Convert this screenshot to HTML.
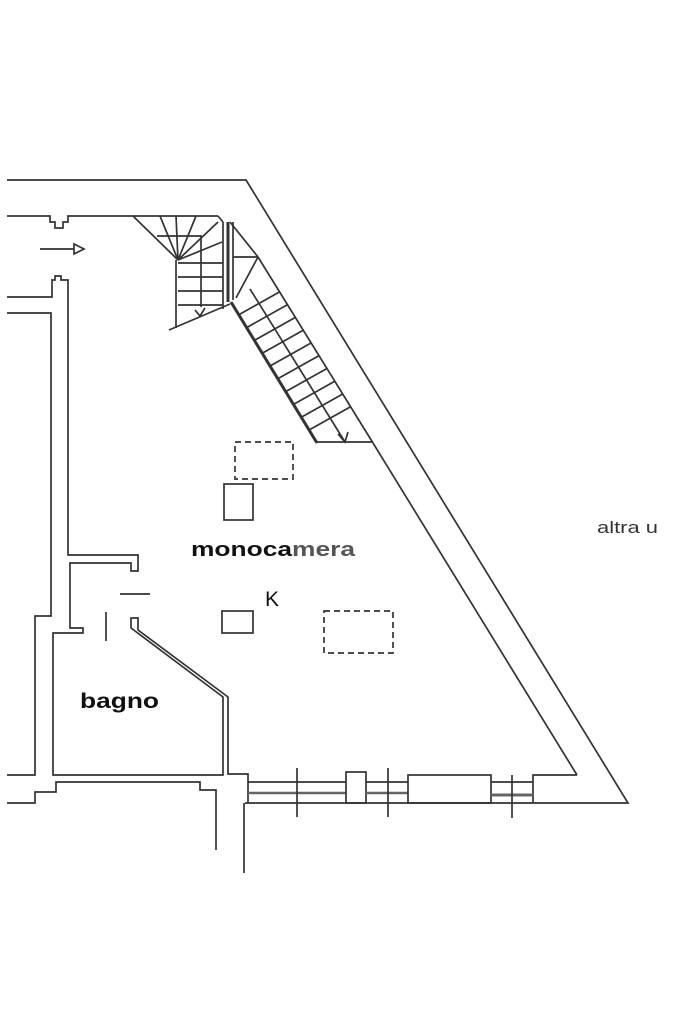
<!DOCTYPE html>
<html><head><meta charset="utf-8"><style>
html,body{margin:0;padding:0;background:#fff;}
svg{display:block;}
</style></head><body>
<svg width="683" height="1023" viewBox="0 0 683 1023" xmlns="http://www.w3.org/2000/svg">
<g fill="none" stroke="#333" stroke-width="1.7">
<polyline points="7,180 246,180 628,803 245,803"/>
<polyline points="7,216 50,216 50,222 55,222 55,228 63,228 63,222 68,222 68,216 218,216"/>
<polyline points="230,222 258,257"/>
<line x1="373" y1="443" x2="577" y2="775"/>
<line x1="258" y1="257" x2="373" y2="443"/>
<polyline points="533,803 533,775 577,775"/>
<polyline points="7,297 52,297 52,280 55,280 55,276 61,276 61,280 68,280 68,555 138,555 138,571 131,571 131,563 70,563 70,628 83,628 83,633 53,633 53,775 223,775 223,697 131,628 131,618 138,618 138,630 228,697 228,774 248,774 248,803"/>
<polyline points="7,313 51,313 51,616 35,616 35,775 7,775"/>
<polyline points="7,803 35,803 35,792 56,792 56,782 200,782 200,790 216,790 216,850"/>
<line x1="244" y1="803" x2="244" y2="873"/>
<line x1="120" y1="594" x2="150" y2="594"/>
<line x1="106" y1="612" x2="106" y2="641"/>
<line x1="248" y1="782" x2="346" y2="782"/>
<line x1="248" y1="793" x2="346" y2="793" stroke="#666" stroke-width="2.5"/>
<rect x="346" y="772" width="20" height="31"/>
<line x1="366" y1="782" x2="408" y2="782"/>
<line x1="366" y1="793" x2="408" y2="793" stroke="#666" stroke-width="2.5"/>
<rect x="408" y="775" width="83" height="28"/>
<line x1="491" y1="782" x2="533" y2="782"/>
<line x1="491" y1="795" x2="533" y2="795" stroke="#666" stroke-width="3"/>
<line x1="297" y1="768" x2="297" y2="817"/>
<line x1="388" y1="768" x2="388" y2="817"/>
<line x1="512" y1="775" x2="512" y2="818"/>
<line x1="40" y1="249" x2="74" y2="249"/>
<polygon points="74,244 84,249 74,254"/>
<line x1="133" y1="216" x2="178" y2="260"/>
<polyline points="157,236 201,236 201,307"/>
<line x1="176" y1="260" x2="176" y2="328"/>
<line x1="178" y1="260" x2="160" y2="216"/>
<line x1="178" y1="260" x2="176" y2="216"/>
<line x1="178" y1="260" x2="196" y2="216"/>
<line x1="178" y1="260" x2="218" y2="222"/>
<line x1="178" y1="260" x2="222" y2="242"/>
<line x1="218" y1="216" x2="223" y2="222"/>
<line x1="223" y1="222" x2="223" y2="309"/>
<line x1="228" y1="222" x2="228" y2="302" stroke-width="3"/>
<line x1="233" y1="222" x2="233" y2="300"/>
<line x1="178" y1="263" x2="223" y2="263"/>
<line x1="178" y1="277" x2="223" y2="277"/>
<line x1="178" y1="291" x2="223" y2="291"/>
<line x1="178" y1="305" x2="223" y2="305"/>
<line x1="169" y1="330" x2="230" y2="304"/>
<polyline points="195,310 200,316 205,308"/>
<line x1="233" y1="257" x2="258" y2="257"/>
<line x1="258" y1="257" x2="236" y2="298"/>
<line x1="231" y1="302" x2="317" y2="443" stroke-width="3"/>
<line x1="317" y1="442" x2="373" y2="442"/>
<line x1="250" y1="289" x2="345" y2="442"/>
<polyline points="338,434 345,442 348,432"/>
<line x1="238.8" y1="314.8" x2="279.8" y2="291.8"/>
<line x1="246.6" y1="327.6" x2="287.6" y2="304.6"/>
<line x1="254.4" y1="340.4" x2="295.4" y2="317.4"/>
<line x1="262.2" y1="353.2" x2="303.2" y2="330.2"/>
<line x1="270" y1="366" x2="311" y2="343"/>
<line x1="277.8" y1="378.8" x2="318.8" y2="355.8"/>
<line x1="285.7" y1="391.6" x2="326.7" y2="368.6"/>
<line x1="293.5" y1="404.4" x2="334.5" y2="381.4"/>
<line x1="301.3" y1="417.2" x2="342.3" y2="394.2"/>
<line x1="309.1" y1="430" x2="350.1" y2="407"/>
<rect x="235" y="442" width="58" height="37" stroke-dasharray="6,4"/>
<rect x="224" y="484" width="29" height="36"/>
<rect x="222" y="611" width="31" height="22"/>
<rect x="324" y="611" width="69" height="42" stroke-dasharray="6,4"/>
</g>
<g font-family="Liberation Sans, sans-serif" fill="#111">
<text x="191" y="556" font-size="20" font-weight="bold" textLength="164" lengthAdjust="spacingAndGlyphs">monoca<tspan fill="#555">mera</tspan></text>
<text x="265" y="606" font-size="21">K</text>
<text x="80" y="708" font-size="21" font-weight="bold" textLength="79" lengthAdjust="spacingAndGlyphs">bagno</text>
<text x="597" y="533" font-size="17" fill="#333" textLength="61" lengthAdjust="spacingAndGlyphs">altra u</text>
</g>
</svg>
</body></html>
